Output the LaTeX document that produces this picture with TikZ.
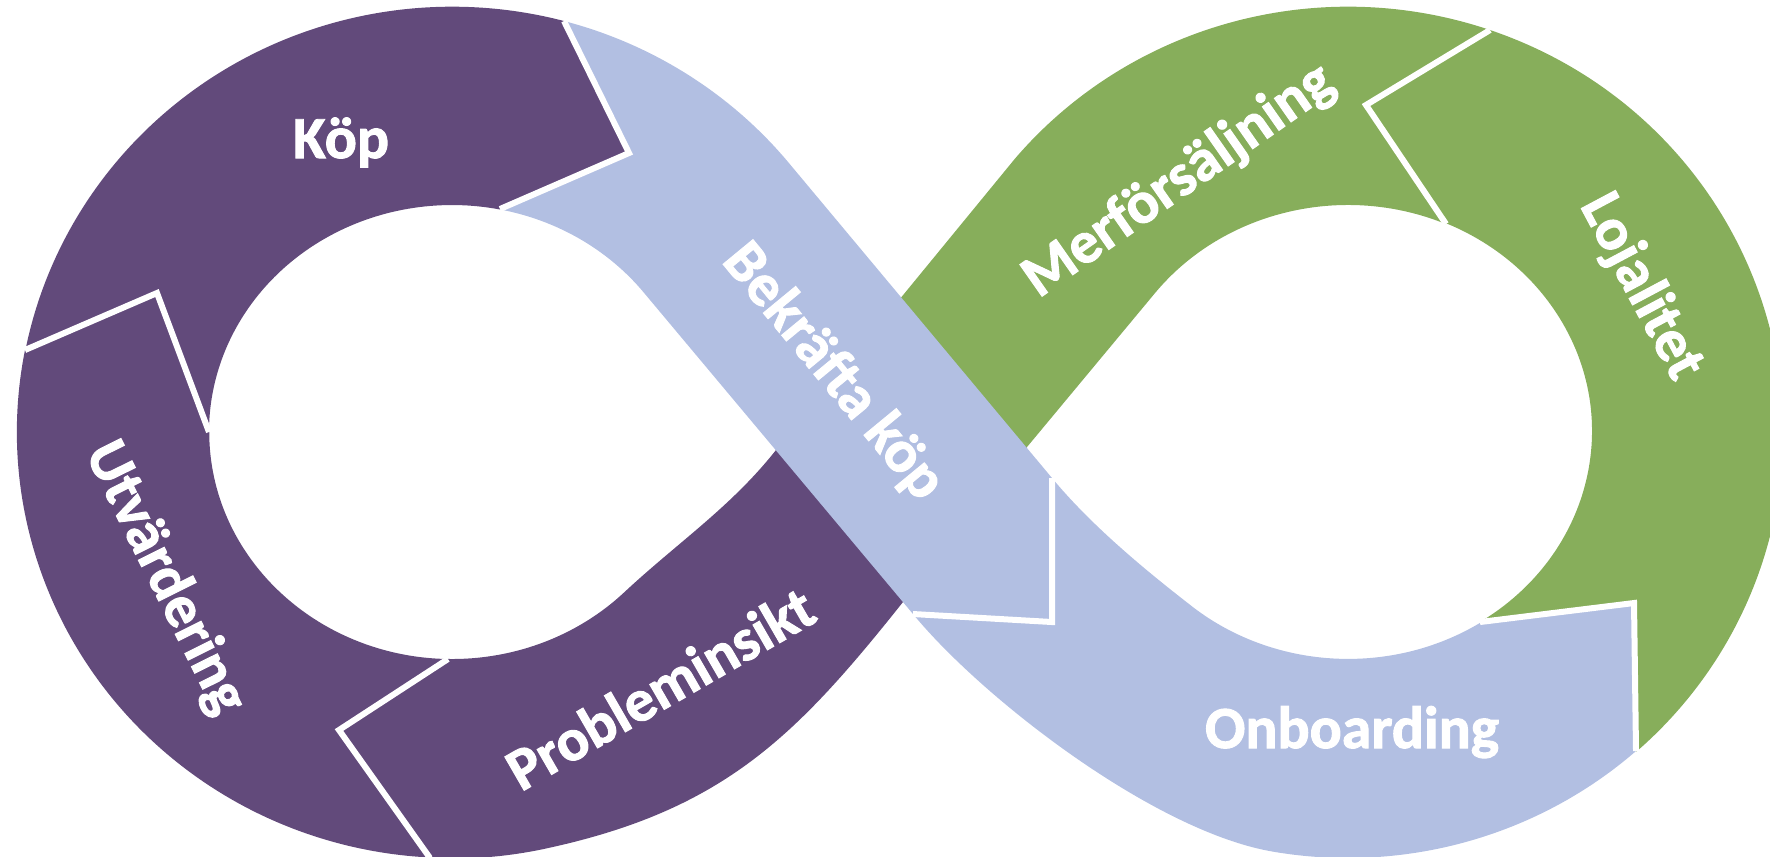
\documentclass[tikz,border=0pt]{standalone}
\usepackage{fontspec}
\setmainfont{Carlito}[BoldFeatures={FakeBold=1.6}]
\definecolor{purp}{HTML}{624A7B}
\definecolor{grn}{HTML}{87AE5B}
\definecolor{blu}{HTML}{B2BFE2}

\begin{document}
\begin{tikzpicture}[x=0.01cm,y=-0.01cm,
  outer/.style={x radius=435,y radius=426},
  inner/.style={x radius=243,y radius=227},
  chev/.style={draw=white,line width=0.06cm,line join=miter},
  lbl/.style={text=white,inner sep=0pt,font=\fontsize{17}{20}\selectfont\bfseries}]
  \useasboundingbox (0,0) rectangle (1770,856);
  \clip (0,0) rectangle (1770,856);

  % Define chevron points
  \coordinate (kb-o) at (564,21);   \coordinate (kb-t) at (629,153);  \coordinate (kb-i) at (500,209);
  \coordinate (uk-o) at (25,350);   \coordinate (uk-t) at (157,293);  \coordinate (uk-i) at (209,432);
  \coordinate (pu-i) at (448,659);  \coordinate (pu-t) at (339,730);  \coordinate (pu-o) at (430,858);
  \coordinate (ml-o) at (1490,30);  \coordinate (ml-t) at (1366,105); \coordinate (ml-i) at (1446,224);
  \coordinate (lo-i) at (1480,622); \coordinate (lo-t) at (1634,603); \coordinate (lo-o) at (1636,751);
  \coordinate (bo-i) at (1052,478); \coordinate (bo-t) at (1052,622); \coordinate (bo-o) at (913,614);
  % where the two strands cross
  \coordinate (xl) at (776,450); \coordinate (xr) at (1027,447); \coordinate (xb) at (903,602);

  % Left loop
  \fill[purp] (kb-t) -- (kb-o) arc[start angle=-75.1,end angle=-168.9,outer]
    -- (uk-t) -- (uk-i) arc[start angle=180,end angle=281.4,inner] -- cycle;
  \fill[purp] (uk-t) -- (uk-o) arc[start angle=191.1,end angle=92.9,outer]
    -- (pu-t) -- (pu-i) arc[start angle=91,end angle=180,inner] -- cycle;
  \fill[purp] (pu-t) -- (pu-o) arc[start angle=92.9,end angle=77,outer]
    .. controls (725,809) and (797,735) .. (xb) -- (xr) -- (xl)
    .. controls (731,507) and (677,543) .. (624,592.5) arc[start angle=45,end angle=91,inner] -- cycle;

  % Right loop
  \begin{scope}[inner/.style={x radius=244,y radius=227}]
    \fill[grn] (ml-t) -- (ml-o) arc[start angle=-70.95,end angle=-140,outer]
      -- (xl) -- (xr) -- (1155.7,292.2) arc[start angle=-142,end angle=-66.3,inner] -- cycle;
    \fill[grn] (ml-t) -- (ml-o) arc[start angle=-70.95,end angle=48.5,outer]
      -- (lo-t) -- (lo-i) arc[start angle=57.25,end angle=-66.3,inner] -- cycle;
    \fill[blu] (lo-t) -- (lo-o) arc[start angle=48.5,end angle=100,outer]
      .. controls (1154,831) and (983,699) .. (bo-o) -- (bo-t) -- (bo-i)
      .. controls (1090,524) and (1142,567.5) .. (1189,604) arc[start angle=130.7,end angle=57.25,inner] -- cycle;
  \end{scope}

  % Crossing strand on top
  \fill[blu] (kb-t) -- (kb-o) arc[start angle=-75.1,end angle=-39,outer]
    -- (bo-i) -- (bo-t) -- (bo-o) -- (643.5,292.2) arc[start angle=-38,end angle=-78.6,inner] -- cycle;

  % White chevrons between parts
  \draw[chev] (kb-o) -- (kb-t) -- (kb-i);
  \draw[chev] (uk-o) -- (uk-t) -- (uk-i);
  \draw[chev] (pu-i) -- (pu-t) -- (pu-o);
  \draw[chev] (ml-o) -- (ml-t) -- (ml-i);
  \draw[chev] (lo-i) -- (lo-t) -- (lo-o);
  \draw[chev] (bo-i) -- (bo-t) -- (bo-o);

  % Labels
  \node[lbl,anchor=base] (kop) at (341,158) {Köp};
  \node[lbl,rotate=-50.5] (bekrafta) at (833,372) {Bekräfta köp};
  \node[lbl,anchor=base] (onboarding) at (1352,748) {Onboarding};
  \node[lbl,rotate=-62] (lojalitet) at (1641,287) {Lojalitet};
  \node[lbl,rotate=35] (merforsaljning) at (1179,181) {Merförsäljning};
  \node[lbl,rotate=30] (probleminsikt) at (660,688) {Probleminsikt};
  \node[lbl,rotate=-63.5] (utvardering) at (165,578) {Utvärdering};
\end{tikzpicture}
\end{document}
